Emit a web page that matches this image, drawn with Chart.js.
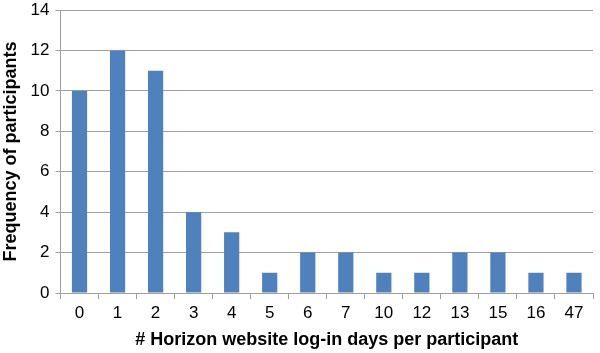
<!DOCTYPE html>
<html>
<head>
<meta charset="utf-8">
<script src="https://cdn.jsdelivr.net/npm/chart.js@4"></script>
<style>
  html, body { margin: 0; padding: 0; background: #fff; }
  #wrap { width: 600px; height: 353px; }
</style>
</head>
<body>
<div id="wrap"><canvas id="chart"></canvas></div>
<script>
// categories: number of log-in days
const loginDays = ['0', '1', '2', '3', '4', '5', '6', '7', '10', '12', '13', '15', '16', '47'];
// participants for each category
const participants = [10, 12, 11, 4, 3, 1, 2, 2, 1, 1, 2, 2, 1, 1];

const gridColor = '#a0a0a0';
const fontFamily = '"Liberation Sans", Arial, sans-serif';

new Chart(document.getElementById('chart').getContext('2d'), {
    type: 'bar',
    data: {
        labels: loginDays,
        datasets: [{
            data: participants,
            backgroundColor: '#4f81bd',
            barPercentage: 0.4,
            categoryPercentage: 1.0
        }]
    },
    options: {
        responsive: true,
        maintainAspectRatio: false,
        animation: false,
        layout: { padding: { top: 0, right: 7, left: 0, bottom: 2 } },
        plugins: {
            legend: { display: false },
            tooltip: { enabled: false }
        },
        scales: {
            x: {
                grid: {
                    drawOnChartArea: false,
                    drawTicks: true,
                    tickLength: 6,
                    color: gridColor
                },
                border: { display: true, color: gridColor },
                ticks: {
                    color: '#000',
                    font: { family: fontFamily, size: 17 },
                    padding: 4,
                    maxRotation: 0
                },
                title: {
                    display: true,
                    text: '# Horizon website log-in days per participant',
                    color: '#000',
                    font: { family: fontFamily, size: 18, weight: 'bold' },
                    padding: { top: 2, bottom: 0 }
                }
            },
            y: {
                min: 0,
                max: 14,
                // top of plot sits closer to the canvas edge than the default
                afterFit: function (scale) { scale.paddingTop = 10; },
                ticks: {
                    stepSize: 2,
                    color: '#000',
                    font: { family: fontFamily, size: 17 },
                    padding: 6
                },
                grid: {
                    color: gridColor,
                    tickLength: 5
                },
                border: { display: true, color: gridColor },
                title: {
                    display: true,
                    text: 'Frequency of participants',
                    color: '#000',
                    font: { family: fontFamily, size: 18, weight: 'bold' },
                    padding: { top: 0, bottom: 3 }
                }
            }
        }
    }
});
</script>
</body>
</html>
